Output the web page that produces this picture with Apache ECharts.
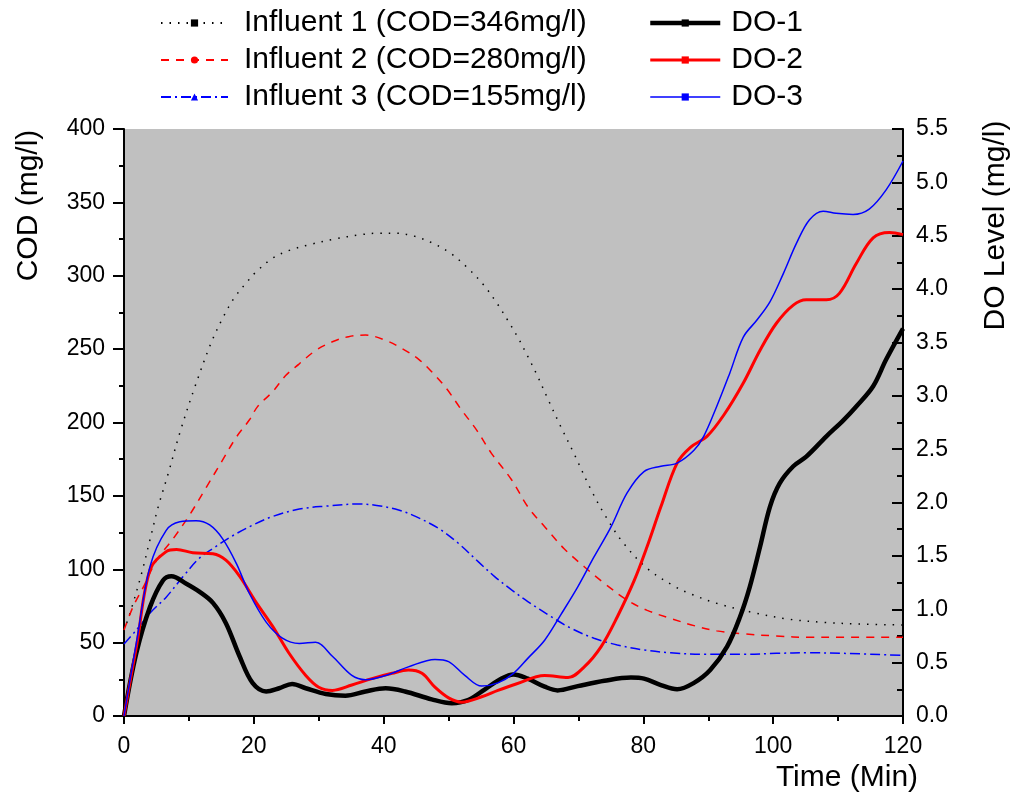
<!DOCTYPE html>
<html>
<head>
<meta charset="utf-8">
<script src="https://cdn.jsdelivr.net/npm/echarts@6/dist/echarts.min.js"></script>
<style>
html,body{margin:0;padding:0;background:#fff;}
#chart{width:1019px;height:800px;}
</style>
</head>
<body>
<div id="chart"></div>
<script>
// ---- data (time in min, value) ----
var influent1 = [[0,58],[1.2,74],[2.7,97],[4,120],[5.3,143],[6.8,165],[8.6,193],[10.9,224],[13.4,254],[15.3,272],[17,285],[19,296],[20.2,302],[22.9,312],[25.6,317.5],[28.4,321],[32.4,325],[36.5,328],[39.2,329],[41.9,329],[44.7,327],[47.4,322.5],[50.1,316],[52.9,305.5],[55.4,293.7],[57.4,281.6],[59.2,269],[60.8,257],[62.2,245],[63.5,233.5],[65.4,215],[67.3,197],[69.3,179],[71.9,154.5],[74.2,136],[76.9,118],[80.6,100.6],[84.7,88.6],[87.4,83],[91.3,76.8],[97,70.4],[102.4,66],[107.8,63.8],[113.3,62.7],[120,62]];
var influent2 = [[0,58.6],[1.4,74.5],[3,88],[5,106],[7.6,121],[10.1,137],[12.7,156],[15.2,174.5],[17.3,190],[19.3,201.7],[20.6,211],[22.9,221],[24.9,232],[27,240],[29.5,249],[32.1,255],[34.6,258.5],[37.2,259.6],[40.3,256],[42.8,250.5],[45.4,243],[47.4,234.6],[49.7,223],[52,208.5],[54.3,195],[56.6,179],[59.7,161],[62.2,142.6],[64.8,129],[67.8,114],[70.9,101.7],[74,90.4],[77.5,79],[80.6,72],[84.2,66.5],[87.8,61.6],[91.3,58],[95.4,56],[100.5,54.5],[105.6,53.6],[110.8,53.6],[120,53.6]];
var influent3 = [[0,49],[1.9,58.6],[4.2,71],[6.5,81],[9.1,95],[11.6,107.5],[14,115],[16.8,123],[19.8,130],[22.9,136],[27,141],[31.1,143],[36.2,144.5],[39.2,143.3],[42.3,140.4],[44.9,136],[48.4,128],[51.5,117.7],[54.6,105],[57.1,95],[59.7,86],[62.2,78],[65.8,67.7],[68.9,59.7],[72.4,53],[76,48.4],[80.1,45],[84.2,43.1],[89.3,42],[95.4,42],[100.5,42.7],[105.6,43.1],[110.8,42.7],[120,41.3]];
var do1 = [[0,0],[1.9,0.59],[4,1.02],[6,1.27],[7.3,1.31],[9.6,1.24],[11.6,1.165],[13.7,1.06],[15.7,0.87],[17.8,0.56],[19.8,0.31],[21.9,0.23],[23.9,0.26],[25.9,0.30],[28,0.26],[31.1,0.206],[34.1,0.19],[37.2,0.23],[40.3,0.26],[43.3,0.23],[47.4,0.156],[50.5,0.12],[53,0.15],[55.6,0.25],[58.1,0.35],[60,0.39],[62.2,0.35],[64.8,0.275],[66.8,0.24],[69.9,0.28],[74,0.33],[78.1,0.36],[80.1,0.35],[82.7,0.29],[85.2,0.25],[87.8,0.31],[90.3,0.43],[92.9,0.65],[94.9,0.93],[96.4,1.21],[98,1.59],[99.5,1.96],[101,2.18],[103.1,2.34],[105.1,2.43],[108.2,2.62],[110.8,2.77],[112.8,2.90],[115.4,3.09],[117.4,3.34],[120,3.63]];
var do2 = [[0,0],[2,0.68],[4,1.37],[6.5,1.54],[8.1,1.56],[10.6,1.53],[13.7,1.52],[15.7,1.46],[17.8,1.31],[20.3,1.07],[22.9,0.84],[25.4,0.59],[28,0.38],[30,0.27],[32.1,0.24],[35.1,0.29],[38.2,0.35],[41.3,0.40],[43.8,0.43],[45.9,0.40],[47.9,0.27],[50,0.17],[52,0.13],[55.1,0.18],[57.6,0.24],[60.4,0.30],[64.8,0.38],[68.4,0.36],[70.9,0.46],[73.5,0.65],[76,0.93],[78.6,1.27],[80.6,1.59],[82.7,1.96],[85.2,2.37],[87.3,2.52],[89.8,2.62],[92.4,2.82],[95.4,3.12],[98,3.43],[100.5,3.68],[103.1,3.85],[105.1,3.90],[108.2,3.90],[110.2,3.96],[112.8,4.24],[115.4,4.48],[117.9,4.53],[120,4.51]];
var do3 = [[0,0],[2,0.72],[4,1.40],[6.5,1.74],[8.6,1.82],[11.1,1.83],[13.2,1.79],[15.2,1.66],[17.3,1.43],[19.3,1.15],[21.9,0.88],[24.4,0.73],[27,0.68],[29.5,0.69],[32.1,0.56],[35.1,0.38],[37.2,0.34],[40.3,0.38],[43.8,0.46],[47.9,0.53],[50,0.51],[52.5,0.38],[55.1,0.28],[57.6,0.31],[60,0.40],[62.2,0.54],[64.8,0.71],[67.3,0.95],[69.9,1.21],[72.4,1.49],[75,1.77],[77.5,2.09],[80.1,2.29],[82.7,2.34],[85.2,2.37],[87.8,2.49],[89.3,2.62],[91.3,2.90],[93.3,3.21],[95.4,3.55],[97.5,3.71],[99.5,3.88],[101.6,4.15],[103.6,4.43],[105.6,4.65],[107.7,4.73],[109.7,4.71],[112.3,4.70],[114.8,4.75],[117.4,4.93],[120,5.2]];

var influentNames = ['Influent 1 (COD=346mg/l)','Influent 2 (COD=280mg/l)','Influent 3 (COD=155mg/l)'];
var doNames = ['DO-1','DO-2','DO-3'];
var axisNames = {x:'Time (Min)', yLeft:'COD (mg/l)', yRight:'DO Level (mg/l)'};

var FONT = '"Liberation Sans", Arial, sans-serif';
var chart = echarts.init(document.getElementById('chart'), null, {renderer:'canvas'});

function lineSeries(name, data, yIdx, color, width, type, symbol){
  return {
    name:name, type:'line', data:data, yAxisIndex:yIdx,
    smooth:0.35, showSymbol:false, symbol:symbol, symbolSize:6,
    lineStyle:{color:color, width:width, type:type},
    itemStyle:{color:color},
    emphasis:{disabled:true}, silent:true, z: yIdx===1?3:2
  };
}

var doLegendWidths = [4.5, 3, 1.5];

var option = {
  backgroundColor:'#ffffff',
  animation:false,
  textStyle:{fontFamily:FONT},
  grid:{left:124, right:112, top:129, bottom:84, show:true, backgroundColor:'#c0c0c0', borderWidth:0},
  legend:[{
    data:influentNames, orient:'vertical', left:160, top:8, padding:0,
    itemWidth:67, itemHeight:9, itemGap:7, selectedMode:false,
    textStyle:{fontSize:30, lineHeight:30, color:'#000', fontFamily:FONT, padding:[0,0,0,11]}
  },{
    data:doNames.map(function(n,i){return {name:n, lineStyle:{width:doLegendWidths[i]}};}),
    orient:'vertical', left:648, top:8, padding:0,
    itemWidth:70, itemHeight:9, itemGap:7, selectedMode:false,
    textStyle:{fontSize:30, lineHeight:30, color:'#000', fontFamily:FONT, padding:[0,0,0,6]}
  }],
  xAxis:{
    type:'value', min:0, max:120, interval:20,
    name:axisNames.x, nameLocation:'middle', nameGap:47,
    nameTextStyle:{fontSize:30, color:'#000', fontFamily:FONT, padding:[0,0,0,667]},
    axisLine:{lineStyle:{color:'#000', width:2}},
    axisTick:{length:8, lineStyle:{width:2, color:'#000'}},
    minorTick:{show:true, splitNumber:2, length:5, lineStyle:{width:2, color:'#000'}},
    axisLabel:{fontSize:23, color:'#000', margin:19, fontFamily:FONT},
    splitLine:{show:false}
  },
  yAxis:[{
    type:'value', min:0, max:400, interval:50, position:'left',
    name:axisNames.yLeft, nameLocation:'middle', nameGap:80,
    nameTextStyle:{fontSize:30, color:'#000', fontFamily:FONT, padding:[0,0,0,434]},
    axisLine:{show:true, lineStyle:{color:'#000', width:2}},
    axisTick:{show:true, length:11, lineStyle:{width:2, color:'#000'}},
    minorTick:{show:true, splitNumber:2, length:5, lineStyle:{width:2, color:'#000'}},
    axisLabel:{fontSize:23, color:'#000', margin:19, fontFamily:FONT},
    splitLine:{show:false}
  },{
    type:'value', min:0, max:5.5, interval:0.5, position:'right',
    name:axisNames.yRight, nameLocation:'middle', nameGap:78,
    nameTextStyle:{fontSize:30, color:'#000', fontFamily:FONT, padding:[0,0,0,394]},
    axisLine:{show:true, lineStyle:{color:'#000', width:2}},
    axisTick:{show:true, inside:true, length:11, lineStyle:{width:2, color:'#000'}},
    minorTick:{show:true, splitNumber:2, length:6, lineStyle:{width:2, color:'#000'}},
    axisLabel:{fontSize:23, color:'#000', margin:13, fontFamily:FONT, formatter:function(v){return v.toFixed(1);}},
    splitLine:{show:false}
  }],
  series:[
    lineSeries(influentNames[0], influent1, 0, '#000000', 1.5, [1.5,7], 'rect'),
    lineSeries(influentNames[1], influent2, 0, '#ff0000', 1.5, [8,7], 'circle'),
    lineSeries(influentNames[2], influent3, 0, '#0000ff', 1.5, [10,4,2,4], 'triangle'),
    lineSeries(doNames[0], do1, 1, '#000000', 4.5, 'solid', 'rect'),
    lineSeries(doNames[1], do2, 1, '#ff0000', 3, 'solid', 'rect'),
    lineSeries(doNames[2], do3, 1, '#0000ff', 1.5, 'solid', 'rect')
  ]
};
chart.setOption(option);
</script>
</body>
</html>
